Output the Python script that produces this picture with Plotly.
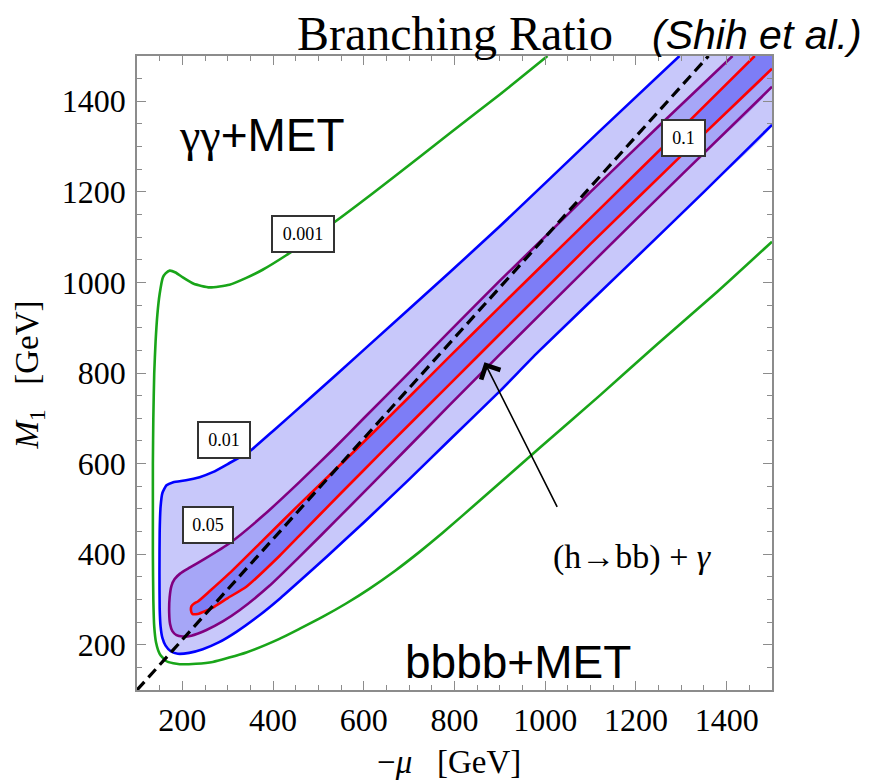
import plotly.graph_objects as go

# ---- contour curves (x = -mu [GeV], y = M1 [GeV]) ----
green_mu = [1005, 900, 789, 723, 620, 535, 480, 429, 377, 341, 304, 260, 225, 201, 185, 172, 163, 157,
            150, 145, 141, 138, 136, 135, 135, 135, 136, 138, 142, 150, 164, 180, 194, 230, 267, 341,
            414, 458, 510, 561, 613, 670, 723, 774, 862, 988, 1120, 1245, 1380, 1500]
green_m1 = [1500, 1415, 1329, 1277, 1197, 1133, 1095, 1060, 1028, 1010, 995, 989, 997, 1011, 1022, 1026,
            1020, 1011, 975, 930, 870, 800, 700, 600, 500, 400, 300, 240, 205, 180, 164, 159, 157, 158,
            162, 183, 213, 235, 262, 291, 324, 364, 405, 447, 524, 635, 750, 862, 980, 1090]

blue_mu = [1296, 1120, 900, 789, 600, 480, 400, 348, 300, 267, 238, 208, 180, 165, 156, 152, 150, 149.5,
           150, 152, 156, 163, 175, 190, 215, 245, 280, 320, 370, 414, 458, 520, 600, 700, 789, 900, 984,
           1186, 1350, 1500]
blue_m1 = [1500, 1334, 1124, 1022, 851, 743, 672, 627, 599, 581, 570, 563, 559, 552, 535, 505, 450, 360,
           280, 240, 215, 198, 185, 180, 182, 190, 205, 229, 265, 301, 340, 396, 470, 565, 652, 760, 846,
           1041, 1200, 1348]

purple_mu = [1413, 1250, 1100, 1010, 899, 789, 700, 600, 532, 458, 377, 304, 250, 216, 195, 183, 176,
             172, 171, 173, 178, 187, 200, 220, 252, 290, 326, 392, 458, 550, 693, 789, 899, 1100, 1300, 1500]
purple_m1 = [1500, 1345, 1200, 1111, 1003, 892, 801, 700, 631, 559, 484, 424, 390, 370, 357, 345, 330,
             305, 270, 245, 230, 221, 218, 220, 232, 252, 276, 330, 394, 486, 631, 729, 840, 1040, 1237, 1432]

red_mu = [1462, 1300, 1120, 899, 789, 700, 583, 458, 377, 304, 260, 235, 226, 220, 219, 222, 234, 250,
          267, 300, 341, 414, 458, 550, 642, 789, 899, 1100, 1300, 1500]
red_m1 = [1500, 1339, 1162, 945, 836, 747, 631, 510, 430, 358, 318, 296, 291, 285, 276, 268, 268, 274,
          282, 303, 328, 396, 441, 535, 628, 775, 885, 1085, 1280, 1472]

corner_mu = [1500]   # upper-right corner of the frame closes the filled regions
corner_m1 = [1500]

diag_mu = [100, 1360]
diag_m1 = [100, 1500]

x_ticks = [200, 400, 600, 800, 1000, 1200, 1400]
y_ticks = [200, 400, 600, 800, 1000, 1200, 1400]

contour_labels = ["0.001", "0.01", "0.05", "0.1"]
label_mu = [467, 291, 256, 1305]
label_m1 = [1108, 653, 464, 1319]
label_w = [54, 44, 42, 35]

SERIF = "Liberation Serif, Times New Roman, serif"
SANS = "Liberation Sans, Arial, sans-serif"

fig = go.Figure()

fills = [(blue_mu, blue_m1, "#c8c8fa"), (purple_mu, purple_m1, "#a6a6f7"), (red_mu, red_m1, "#7d7df6")]
for mx, my, col in fills:
    fig.add_trace(go.Scatter(x=mx + corner_mu, y=my + corner_m1, mode="lines", fill="toself",
                             fillcolor=col, line=dict(width=0, shape="spline", smoothing=0.5),
                             hoverinfo="skip", showlegend=False))

lines = [(green_mu, green_m1, "#19a519"), (blue_mu, blue_m1, "#0000ff"),
         (purple_mu, purple_m1, "#800080"), (red_mu, red_m1, "#ff0000")]
for mx, my, col in lines:
    fig.add_trace(go.Scatter(x=mx, y=my, mode="lines", line=dict(color=col, width=2.6, shape="spline",
                             smoothing=0.5), hoverinfo="skip", showlegend=False))

fig.add_trace(go.Scatter(x=diag_mu, y=diag_m1, mode="lines",
                         line=dict(color="black", width=3.2, dash="11px,6px"),
                         hoverinfo="skip", showlegend=False))

ann = []
for t, ax_, ay_, w in zip(contour_labels, label_mu, label_m1, label_w):
    ann.append(dict(x=ax_, y=ay_, xref="x", yref="y", text=t, showarrow=False,
                    xanchor="center", yanchor="middle",
                    font=dict(family=SERIF, size=18, color="black"), bgcolor="white",
                    bordercolor="#333333", borderwidth=2, borderpad=3, width=w, height=28))

ann += [
    dict(x=376, y=1326, xref="x", yref="y", showarrow=False, xanchor="center", yanchor="middle",
         text="<span style='font-family:Liberation Serif'>γγ</span>+MET",
         font=dict(family=SANS, size=46, color="black")),
    dict(x=939, y=162, xref="x", yref="y", showarrow=False, xanchor="center", yanchor="middle",
         text="bbbb+MET", font=dict(family=SANS, size=46, color="black")),
    dict(x=1192, y=393, xref="x", yref="y", showarrow=False, xanchor="center", yanchor="middle",
         text="(h→bb) + <i>γ</i>", font=dict(family=SERIF, size=34, color="black")),
    dict(x=866, y=824, xref="x", yref="y", ax=1028, ay=501, axref="x", ayref="y", text="",
         showarrow=True, arrowhead=4, arrowsize=2.6, arrowwidth=1.6, arrowcolor="black"),
    dict(x=0.500, y=1.036, xref="paper", yref="paper", showarrow=False, xanchor="center",
         yanchor="middle", text="Branching Ratio", font=dict(family=SERIF, size=48, color="black")),
    dict(x=0.977, y=1.033, xref="paper", yref="paper", showarrow=False, xanchor="center",
         yanchor="middle", text="<i>(Shih et al.)</i>", font=dict(family=SANS, size=41, color="black")),
    dict(x=0.4906, y=-0.114, xref="paper", yref="paper", showarrow=False, xanchor="center",
         yanchor="middle", text="−<i>μ</i>   [GeV]", font=dict(family=SERIF, size=33, color="black")),
    dict(x=-0.169, y=0.497, xref="paper", yref="paper", showarrow=False, textangle=-90,
         xanchor="center", yanchor="middle",
         text="<i>M</i><sub>1</sub>   [GeV]", font=dict(family=SERIF, size=33, color="black")),
]

axis_common = dict(range=[100, 1500], showgrid=False, zeroline=False, showline=True,
                   linecolor="#8c8c8c", linewidth=1.5, mirror="allticks", ticks="inside",
                   ticklen=9, tickwidth=1.2, tickcolor="#8c8c8c",
                   tickfont=dict(family=SERIF, size=32, color="black"),
                   minor=dict(ticks="inside", dtick=50, tick0=100, ticklen=5, tickcolor="#8c8c8c", tickwidth=1))

# the page body adds an 8px offset, so margins are shifted to keep the frame where the reference has it
fig.update_layout(
    width=871, height=781, autosize=False,
    margin=dict(l=129, r=107, t=48, b=99),
    paper_bgcolor="white", plot_bgcolor="white",
    xaxis=dict(tickvals=x_ticks, ticktext=[str(v) for v in x_ticks], ticklabelstandoff=1, **axis_common),
    yaxis=dict(tickvals=y_ticks, ticktext=[str(v) for v in y_ticks], ticklabelstandoff=3, **axis_common),
    annotations=ann, showlegend=False,
)

fig.write_html("out.html")
